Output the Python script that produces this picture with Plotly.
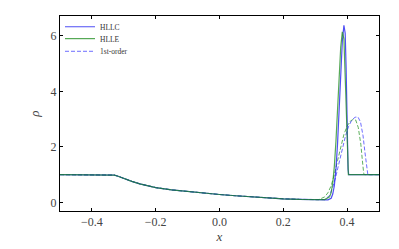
import plotly.graph_objects as go

# left (shared) part of the profile
base_x = [-0.5, -0.4, -0.34, -0.33, -0.32, -0.3, -0.275, -0.25, -0.225, -0.2,
          -0.15, -0.1, -0.05, 0.0, 0.05, 0.1, 0.15, 0.2, 0.25, 0.3]
base_rho = [1.0, 1.0, 1.0, 0.985, 0.95, 0.86, 0.76, 0.67, 0.595, 0.535,
            0.45, 0.39, 0.33, 0.285, 0.24, 0.2, 0.16, 0.13, 0.11, 0.09]

hllc_x = base_x + [0.32, 0.34, 0.35, 0.355, 0.36, 0.365, 0.37, 0.375, 0.38, 0.385,
                   0.39, 0.394, 0.397, 0.4, 0.403, 0.405, 0.5]
hllc_rho = base_rho + [0.085, 0.09, 0.15, 0.3, 0.6, 1.2, 2.1, 3.3, 4.6, 5.8,
                       6.38, 6.1, 4.8, 2.6, 1.2, 1.0, 1.0]

hlle_x = base_x + [0.33, 0.345, 0.35, 0.355, 0.36, 0.365, 0.37, 0.375, 0.38, 0.385,
                   0.39, 0.395, 0.4, 0.404, 0.5]
hlle_rho = base_rho + [0.1, 0.2, 0.35, 0.7, 1.3, 2.2, 3.3, 4.5, 5.6, 6.15,
                       5.9, 4.2, 2.0, 1.0, 1.0]

fo_hllc_x = base_x + [0.33, 0.345, 0.355, 0.365, 0.375, 0.385, 0.395, 0.405, 0.415,
                      0.425, 0.434, 0.442, 0.45, 0.456, 0.461, 0.465, 0.5]
fo_hllc_rho = base_rho + [0.1, 0.25, 0.55, 0.95, 1.45, 1.95, 2.4, 2.75, 2.97,
                          3.07, 3.08, 2.9, 2.4, 1.8, 1.25, 1.0, 1.0]

fo_hlle_x = base_x + [0.31, 0.33, 0.34, 0.35, 0.36, 0.37, 0.38, 0.39, 0.4, 0.41,
                      0.42, 0.427, 0.435, 0.443, 0.448, 0.452, 0.455, 0.5]
fo_hlle_rho = base_rho + [0.095, 0.2, 0.35, 0.6, 1.0, 1.5, 2.0, 2.45, 2.75, 2.93,
                          3.0, 2.97, 2.7, 2.1, 1.5, 1.05, 1.0, 1.0]

x_ticks = [-0.4, -0.2, 0.0, 0.2, 0.4]
x_tick_labels = ["\u22120.4", "\u22120.2", "0.0", "0.2", "0.4"]
y_ticks = [0, 2, 4, 6]
y_tick_labels = ["0", "2", "4", "6"]

BLUE = "rgba(20,20,240,0.75)"
GREEN = "rgba(30,140,30,0.75)"
BLUE_D = "rgba(60,60,255,0.75)"
GREEN_D = "rgba(40,150,40,0.75)"

fig = go.Figure()
fig.add_trace(go.Scatter(x=fo_hlle_x, y=fo_hlle_rho, mode="lines", showlegend=False,
                         line=dict(color=GREEN_D, width=1, dash="4px,2px")))
fig.add_trace(go.Scatter(x=fo_hllc_x, y=fo_hllc_rho, mode="lines", name="1st-order",
                         legend="legend3",
                         line=dict(color=BLUE_D, width=1, dash="4px,2px")))
fig.add_trace(go.Scatter(x=hllc_x, y=hllc_rho, mode="lines", name="HLLC",
                         legend="legend",
                         line=dict(color=BLUE, width=1.2)))
fig.add_trace(go.Scatter(x=hlle_x, y=hlle_rho, mode="lines", name="HLLE",
                         legend="legend2",
                         line=dict(color=GREEN, width=1.2)))

font = "Liberation Serif, DejaVu Serif, serif"
axis_common = dict(showgrid=False, zeroline=False, showline=True, linecolor="black",
                   linewidth=1, mirror="ticks", ticks="inside", ticklen=3,
                   tickcolor="black", tickwidth=1, automargin=False,
                   tickfont=dict(family=font, size=12, color="#444"))

def leg(y):
    return dict(x=0.0, y=y, xanchor="left", yanchor="middle",
                font=dict(family=font, size=7.5, color="#333"), bgcolor="rgba(0,0,0,0)",
                itemwidth=30, tracegroupgap=0)

# the page body has an 8px default margin, so the figure is sized/offset for it
fig.update_layout(
    width=391, height=241,
    margin=dict(l=52, r=20, t=4, b=38),
    plot_bgcolor="white", paper_bgcolor="white",
    xaxis=dict(range=[-0.5, 0.5], tickvals=x_ticks, ticktext=x_tick_labels,
               title=dict(text="<i>x</i>", font=dict(family=font, size=13, color="#444"),
                          standoff=2), **axis_common),
    yaxis=dict(range=[-0.31, 6.72], tickvals=y_ticks, ticktext=y_tick_labels,
               title=dict(text="<i>\u03c1</i>", font=dict(family=font, size=13, color="#444"),
                          standoff=8), **axis_common),
    legend=leg(0.945),
    legend2=leg(0.884),
    legend3=leg(0.819),
)

fig.write_html("out.html")
